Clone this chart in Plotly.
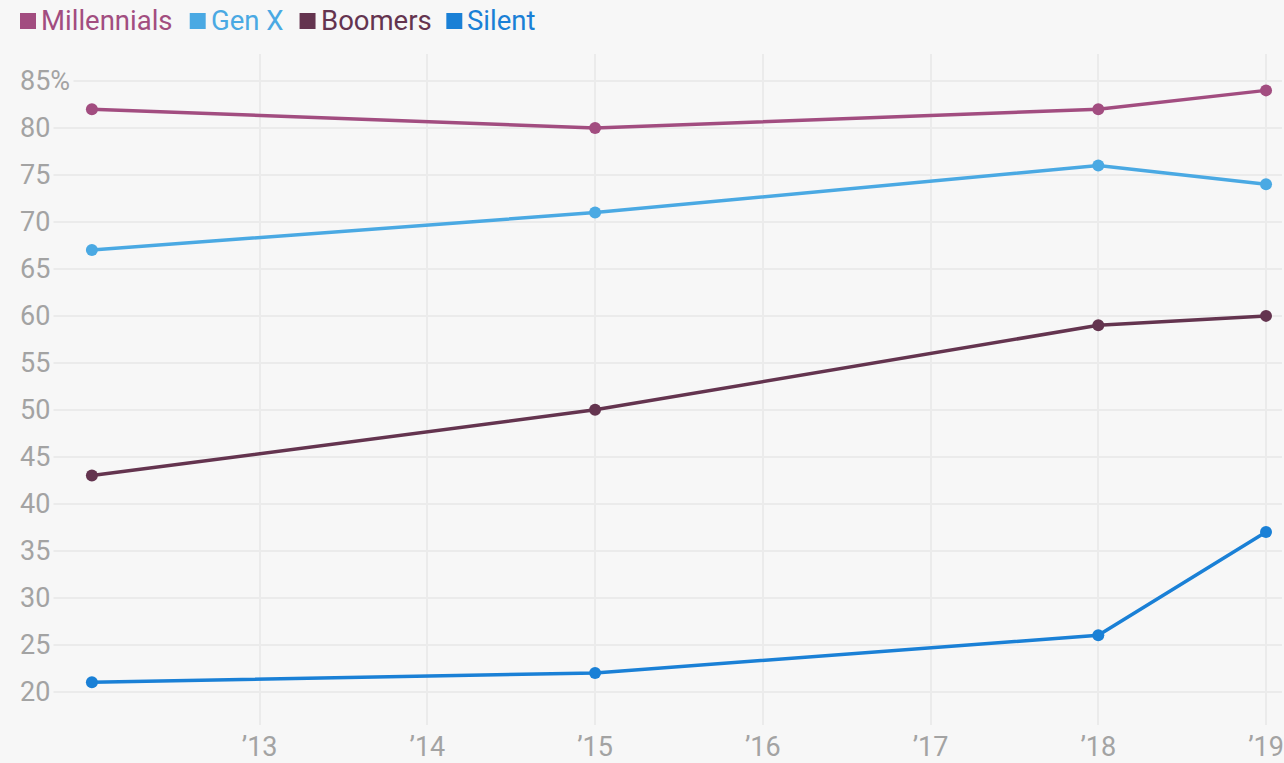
import plotly.graph_objects as go

years = [2012, 2015, 2018, 2019]
millennials = [82, 80, 82, 84]
gen_x = [67, 71, 76, 74]
boomers = [43, 50, 59, 60]
silent = [21, 22, 26, 37]

series_names = ["Millennials", "Gen X", "Boomers", "Silent"]
series_values = [millennials, gen_x, boomers, silent]
series_colors = ["#a24d80", "#4aa9e3", "#64344f", "#1a80d6"]

x_tickvals = [2013, 2014, 2015, 2016, 2017, 2018, 2019]
x_ticktext = ["\u201913", "\u201914", "\u201915", "\u201916", "\u201917", "\u201918", "\u201919"]
y_tickvals = [20, 25, 30, 35, 40, 45, 50, 55, 60, 65, 70, 75, 80, 85]
y_ticktext = ["20", "25", "30", "35", "40", "45", "50", "55", "60", "65", "70", "75", "80", "85%"]

BG = "#f7f7f7"
GRID = "#ebebeb"
TICK = "#a3a3a3"
FONT = "Roboto"

W, H = 1284, 763
ML, MR, MT, MB = 20, 0, 54, 38
PW, PH = W - ML - MR, H - MT - MB

fig = go.Figure()
for name, vals, col in zip(series_names, series_values, series_colors):
    fig.add_trace(go.Scatter(
        x=years, y=vals, name=name, mode="lines+markers",
        line=dict(color=col, width=3.5),
        marker=dict(color=col, size=12),
        showlegend=False, cliponaxis=False,
    ))

annotations = []
for v, t in zip(y_tickvals, y_ticktext):
    annotations.append(dict(
        x=0, xref="paper", y=v, yref="y", text=t, showarrow=False,
        xanchor="left", yanchor="middle", bgcolor=BG, borderpad=3,
        xshift=-4,
        font=dict(family=FONT, size=27, color=TICK),
    ))

# custom legend
legend_x = [20, 190, 300, 447]
shapes = []
for name, col, px in zip(series_names, series_colors, legend_x):
    x0 = (px - ML) / PW
    x1 = (px + 16 - ML) / PW
    y0 = (MT + PH - 29) / PH
    y1 = (MT + PH - 13) / PH
    shapes.append(dict(type="rect", xref="paper", yref="paper",
                       x0=x0, x1=x1, y0=y0, y1=y1,
                       fillcolor=col, line=dict(width=0)))
    annotations.append(dict(
        x=(px + 19 - ML) / PW, xref="paper", y=(MT + PH - 21) / PH, yref="paper",
        text=name, showarrow=False, xanchor="left", yanchor="middle",
        font=dict(family=FONT, size=27.5, color=col),
    ))

fig.update_layout(
    width=W, height=H,
    margin=dict(l=ML, r=MR, t=MT, b=MB),
    paper_bgcolor=BG, plot_bgcolor=BG,
    font=dict(family=FONT, color=TICK, size=27),
    xaxis=dict(
        range=[2012 - 72 / 168, 2019 + 16 / 168],
        tickvals=x_tickvals, ticktext=x_ticktext,
        showgrid=True, gridcolor=GRID, gridwidth=1.5,
        zeroline=False, showline=False, ticks="",
        ticklabeloverflow="allow", ticklabelstandoff=3,
        tickfont=dict(family=FONT, size=27, color=TICK),
    ),
    yaxis=dict(
        range=[20 - 33.3 / 9.4, 85 + 27 / 9.4],
        tickvals=y_tickvals, showticklabels=False,
        showgrid=True, gridcolor=GRID, gridwidth=1.5,
        zeroline=False, showline=False, ticks="",
    ),
    annotations=annotations,
    shapes=shapes,
    showlegend=False,
)

fig.write_html(
    "out.html",
    config={"displayModeBar": False},
    post_script="document.body.style.margin='0';document.body.style.background='#f7f7f7';document.body.style.overflow='hidden';",
)
